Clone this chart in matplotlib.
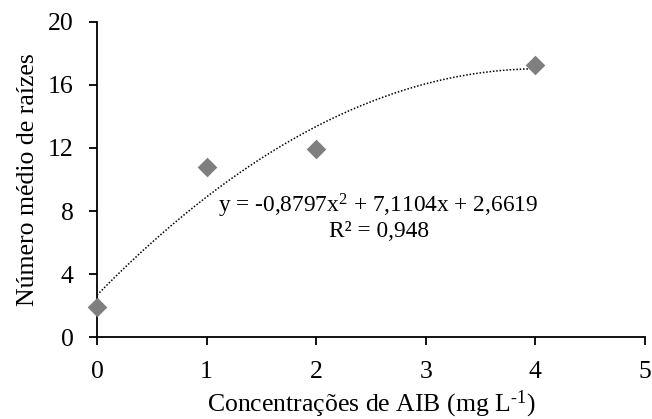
import numpy as np
import matplotlib
matplotlib.use("Agg")
import matplotlib.pyplot as plt

plt.rcParams['font.family'] = ['Liberation Serif', 'DejaVu Serif']
plt.rcParams['mathtext.fontset'] = 'custom'
plt.rcParams['mathtext.rm'] = 'Liberation Serif'
plt.rcParams['mathtext.it'] = 'Liberation Serif:italic'
plt.rcParams['mathtext.bf'] = 'Liberation Serif:bold'

# Data
conc = [0, 1, 2, 4]
raizes = [1.9, 10.8, 11.95, 17.3]
coef = [-0.8797, 7.1104, 2.6619]  # quadratic trendline coefficients
xticks = [0, 1, 2, 3, 4, 5]
yticks = [0, 4, 8, 12, 16, 20]

fig = plt.figure(figsize=(6.52, 4.19), dpi=100)
ax = fig.add_axes([0.1488, 0.1957, 0.989 - 0.1488, 0.9475 - 0.1957])

xs = np.linspace(min(conc), max(conc), 200)
ax.plot(xs, np.polyval(coef, xs), linestyle=(0, (1, 1.2)), color='black', linewidth=1.1, zorder=2)
ax.scatter(conc, raizes, marker='D', s=100, color='#7f7f7f', zorder=3, linewidths=0, clip_on=False)

ax.set_xlim(0, 5)
ax.set_ylim(0, 20)
ax.set_xticks(xticks)
ax.set_yticks(yticks)
for s in ['top', 'right']:
    ax.spines[s].set_visible(False)
for s in ['left', 'bottom']:
    ax.spines[s].set_linewidth(1.3)
    ax.spines[s].set_clip_on(False)
ax.tick_params(axis='both', direction='out', length=5.5, width=1.3, labelsize=18.5)
ax.tick_params(axis='y', pad=11.5)
ax.tick_params(axis='x', pad=12)
ax.set_xlabel('Concentrações de AIB (mg L$^{\\text{-1}}$)', fontsize=18.5, labelpad=3.5)
ax.set_ylabel('Número médio de raízes', fontsize=18.5, labelpad=6)

ax.text(2.57, 7.62, 'y = -0,8797x$^{\\text{2}}$ + 7,1104x + 2,6619\nR² = 0,948',
        ha='center', va='center', fontsize=16.8, linespacing=1.1)

fig.savefig('out.png', dpi=100)
